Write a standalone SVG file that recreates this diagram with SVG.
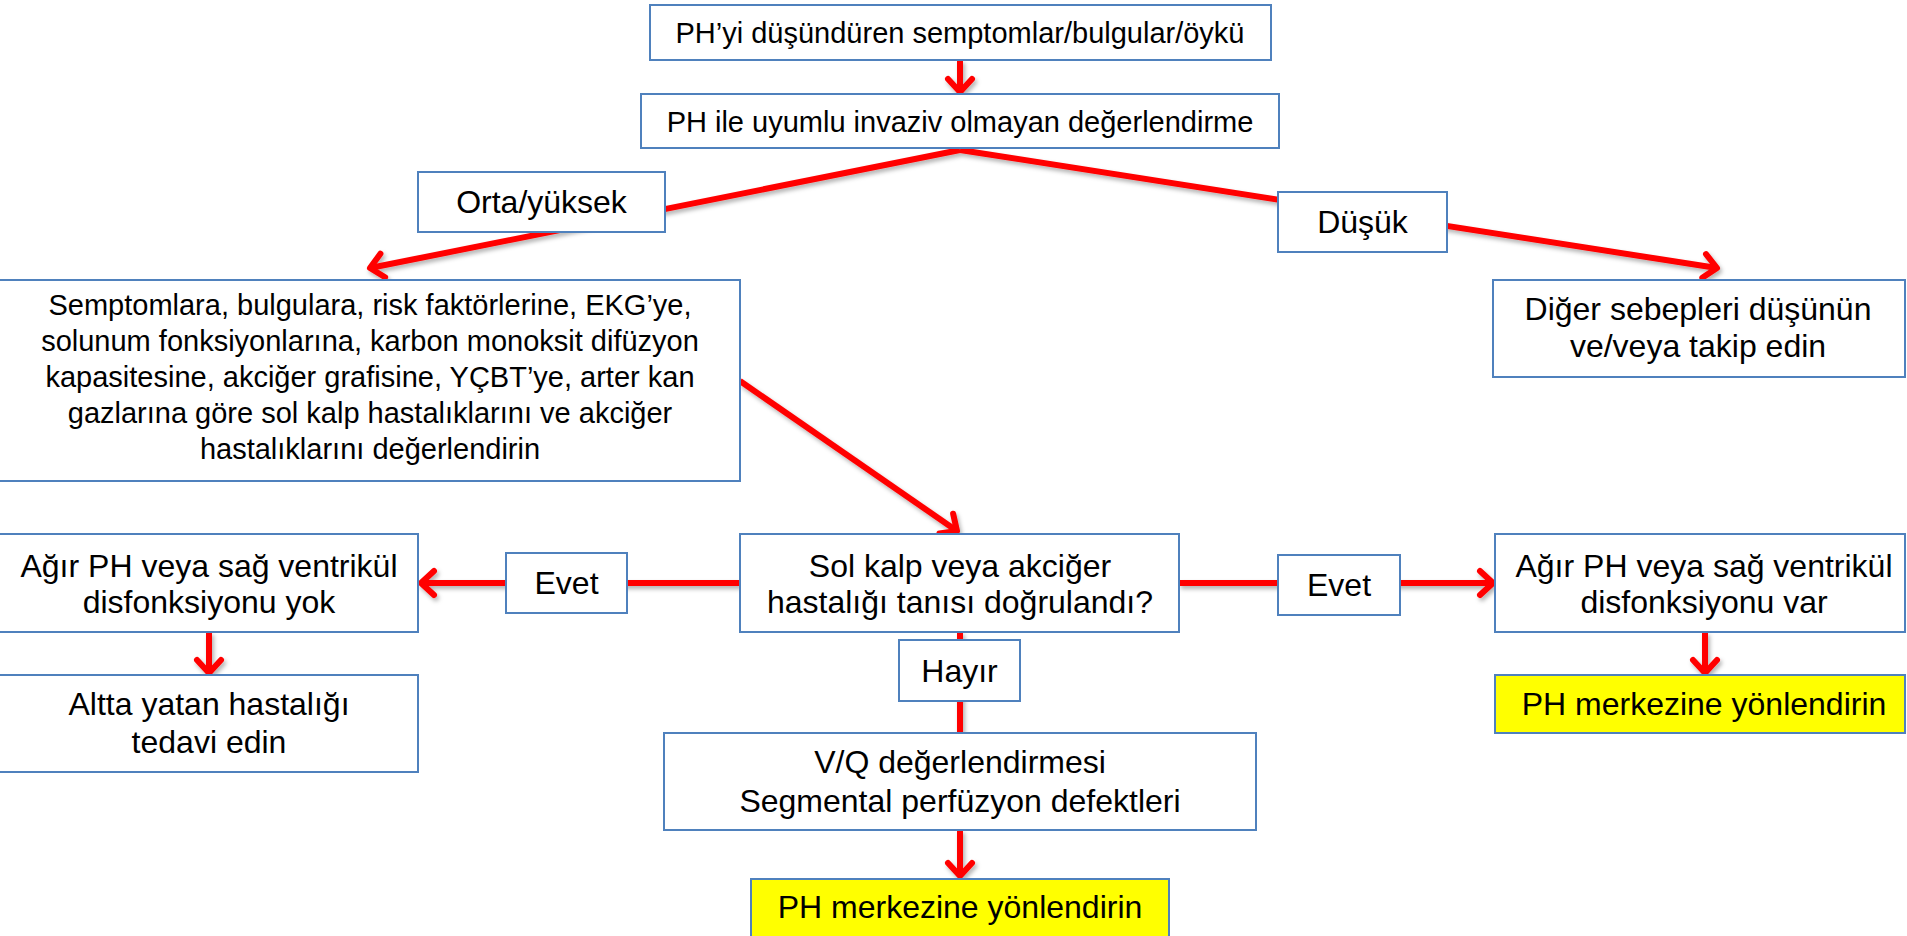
<svg xmlns="http://www.w3.org/2000/svg" width="1907" height="936" viewBox="0 0 1907 936">
<style>
.box{fill:#fff;stroke:#4F81BD;stroke-width:2}
.ybox{fill:#FFFF00;stroke:#4F81BD;stroke-width:2}
.t{font-family:"Liberation Sans",Arial,sans-serif;font-size:32px;fill:#000;text-anchor:middle}
.s{font-size:29px}
.c{fill:none;stroke:#FF0000;stroke-width:6}
</style>
<defs>
<marker id="ah" markerUnits="userSpaceOnUse" viewBox="-20 -20 26 40" refX="0" refY="0" markerWidth="26" markerHeight="40" orient="auto">
<path d="M-13,-12 L0,0 L-13,12" fill="none" stroke="#FF0000" stroke-width="6" stroke-linecap="round" stroke-linejoin="round"/>
</marker>
<filter id="sh" x="-5%" y="-5%" width="110%" height="110%">
<feDropShadow dx="2" dy="3" stdDeviation="2" flood-color="#000" flood-opacity="0.3"/>
</filter>
</defs>
<rect width="1907" height="936" fill="#fff"/>
<g id="connectors" filter="url(#sh)">
<line class="c" x1="960" y1="60" x2="960" y2="92" marker-end="url(#ah)"/>
<line class="c" x1="960" y1="150" x2="370" y2="268" marker-end="url(#ah)"/>
<line class="c" x1="960" y1="150" x2="1717" y2="268" marker-end="url(#ah)"/>
<line class="c" x1="740" y1="381" x2="957" y2="531" marker-end="url(#ah)"/>
<line class="c" x1="740" y1="583" x2="421" y2="583" marker-end="url(#ah)"/>
<line class="c" x1="1179" y1="583" x2="1493" y2="583" marker-end="url(#ah)"/>
<line class="c" x1="209" y1="632" x2="209" y2="673" marker-end="url(#ah)"/>
<line class="c" x1="1705" y1="632" x2="1705" y2="673" marker-end="url(#ah)"/>
<line class="c" x1="960" y1="632" x2="960" y2="733"/>
<line class="c" x1="960" y1="830" x2="960" y2="876" marker-end="url(#ah)"/>
</g>
<g id="n1"><rect class="box" x="650" y="5" width="621" height="55"/><text class="t s" x="960" y="43">PH’yi düşündüren semptomlar/bulgular/öykü</text></g>
<g id="n2"><rect class="box" x="641" y="94" width="638" height="54"/><text class="t s" x="960" y="132">PH ile uyumlu invaziv olmayan değerlendirme</text></g>
<g id="n3"><rect class="box" x="418" y="172" width="247" height="60"/><text class="t" x="541.5" y="213">Orta/yüksek</text></g>
<g id="n4"><rect class="box" x="1278" y="192" width="169" height="60"/><text class="t" x="1362.5" y="233">Düşük</text></g>
<g id="n5"><rect class="box" x="-2" y="280" width="742" height="201"/>
<text class="t s" x="370" y="315">Semptomlara, bulgulara, risk faktörlerine, EKG’ye,</text>
<text class="t s" x="370" y="351">solunum fonksiyonlarına, karbon monoksit difüzyon</text>
<text class="t s" x="370" y="387">kapasitesine, akciğer grafisine, YÇBT’ye, arter kan</text>
<text class="t s" x="370" y="423">gazlarına göre sol kalp hastalıklarını ve akciğer</text>
<text class="t s" x="370" y="459">hastalıklarını değerlendirin</text></g>
<g id="n6"><rect class="box" x="1493" y="280" width="412" height="97"/>
<text class="t" x="1698" y="320">Diğer sebepleri düşünün</text>
<text class="t" x="1698" y="357">ve/veya takip edin</text></g>
<g id="n7"><rect class="box" x="740" y="534" width="439" height="98"/>
<text class="t" x="960" y="577">Sol kalp veya akciğer</text>
<text class="t" x="960" y="613">hastalığı tanısı doğrulandı?</text></g>
<g id="n8"><rect class="box" x="506" y="553" width="121" height="60"/><text class="t" x="566.5" y="594">Evet</text></g>
<g id="n9"><rect class="box" x="1278" y="555" width="122" height="60"/><text class="t" x="1339" y="596">Evet</text></g>
<g id="n10"><rect class="box" x="-2" y="534" width="420" height="98"/>
<text class="t" x="209" y="577">Ağır PH veya sağ ventrikül</text>
<text class="t" x="209" y="613">disfonksiyonu yok</text></g>
<g id="n11"><rect class="box" x="1495" y="534" width="410" height="98"/>
<text class="t" x="1704" y="577">Ağır PH veya sağ ventrikül</text>
<text class="t" x="1704" y="613">disfonksiyonu var</text></g>
<g id="n12"><rect class="box" x="-2" y="675" width="420" height="97"/>
<text class="t" x="209" y="715">Altta yatan hastalığı</text>
<text class="t" x="209" y="753">tedavi edin</text></g>
<g id="n13"><rect class="ybox" x="1495" y="675" width="410" height="58"/><text class="t" x="1704" y="715">PH merkezine yönlendirin</text></g>
<g id="n14"><rect class="box" x="899" y="640" width="121" height="61"/><text class="t" x="959.5" y="682">Hayır</text></g>
<g id="n15"><rect class="box" x="664" y="733" width="592" height="97"/>
<text class="t" x="960" y="773">V/Q değerlendirmesi</text>
<text class="t" x="960" y="812">Segmental perfüzyon defektleri</text></g>
<g id="n16"><rect class="ybox" x="751" y="879" width="418" height="58"/><text class="t" x="960" y="918">PH merkezine yönlendirin</text></g>
</svg>
